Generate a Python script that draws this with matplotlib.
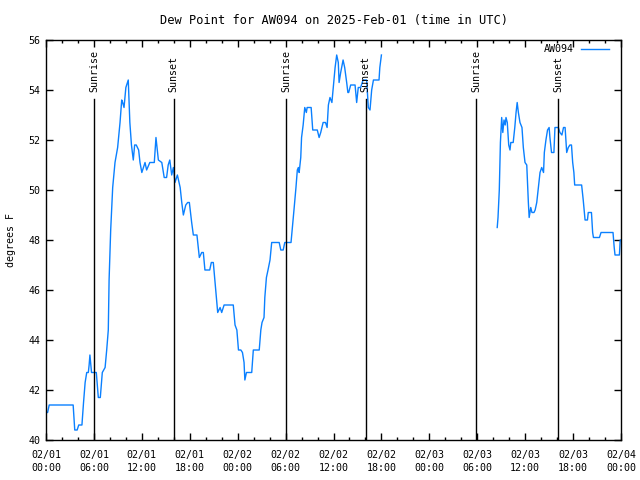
import numpy as np
import matplotlib
matplotlib.use("Agg")
import matplotlib.pyplot as plt
from matplotlib.ticker import MultipleLocator

# hours since 2025-02-01 00:00 UTC, dew point in F
hours1 = [0.0, 0.2, 0.4, 3.4, 3.6, 3.9, 4.1, 4.5, 4.7, 4.9, 5.1, 5.3, 5.4, 5.5, 5.7, 6.3,
          6.55, 6.8, 7.05, 7.4, 7.6, 7.8, 7.9, 8.1, 8.35, 8.64, 8.97, 9.27, 9.48, 9.6, 9.77,
          10.0, 10.3, 10.5, 10.7, 10.93, 11.1, 11.3, 11.6, 11.77, 12.0, 12.4, 12.6, 13.0,
          13.56, 13.77, 14.07, 14.5, 14.8, 15.1, 15.3, 15.5, 15.74, 15.95, 16.15, 16.45,
          16.8, 17.0, 17.2, 17.5, 17.74, 17.95, 18.24, 18.45, 18.9, 19.2, 19.5, 19.7, 19.9,
          20.5, 20.7, 20.95, 21.3, 21.5, 21.8, 22.0, 22.3, 23.45, 23.67, 23.9, 24.1, 24.4,
          24.6, 24.8, 24.9, 25.1, 25.76, 25.96, 26.7, 26.9, 27.05, 27.3, 27.4, 27.6, 27.8,
          28.05, 28.26, 29.2, 29.4, 29.7, 29.9, 30.68, 30.9, 31.05, 31.3, 31.47, 31.6, 31.7,
          31.9, 32.0, 32.2, 32.4, 32.6, 32.7, 33.2, 33.4, 33.97, 34.2, 34.4, 34.7, 35.0,
          35.2, 35.36, 35.56, 35.8, 35.97, 36.2, 36.4, 36.6, 36.7, 36.9, 37.2, 37.4, 37.65,
          37.8, 37.9, 38.15, 38.7, 38.9, 39.1, 39.4, 39.7, 40.15, 40.36, 40.57, 40.78, 41.0,
          41.7, 41.8, 42.0]
dew1 = [41.1, 41.1, 41.4, 41.4, 40.4, 40.4, 40.6, 40.6, 41.5, 42.3, 42.7, 42.7, 43.0, 43.4, 42.7, 42.7,
        41.7, 41.7, 42.7, 42.9, 43.6, 44.4, 46.4, 48.4, 50.1, 51.1, 51.7, 52.7, 53.6, 53.5, 53.3,
        54.1, 54.4, 52.7, 51.8, 51.2, 51.8, 51.8, 51.6, 51.1, 50.7, 51.1, 50.8, 51.1,
        51.1, 52.1, 51.2, 51.1, 50.5, 50.5, 51.0, 51.2, 50.6, 50.9, 50.3, 50.6,
        50.1, 49.5, 49.0, 49.4, 49.5, 49.5, 48.7, 48.2, 48.2, 47.3, 47.5, 47.5, 46.8,
        46.8, 47.1, 47.1, 45.8, 45.1, 45.3, 45.1, 45.4, 45.4, 44.6, 44.4, 43.6, 43.6,
        43.5, 43.1, 42.4, 42.7, 42.7, 43.6, 43.6, 44.4, 44.7, 44.9, 45.7, 46.5, 46.8,
        47.2, 47.9, 47.9, 47.6, 47.6, 47.9, 47.9, 48.7, 49.2, 50.1, 50.8, 50.9, 50.7,
        51.3, 52.1, 52.6, 53.3, 53.1, 53.3, 53.3, 52.4, 52.4, 52.1, 52.3, 52.7, 52.7,
        52.5, 53.4, 53.7, 53.5, 54.1, 54.9, 55.4, 55.1, 54.3, 54.7, 55.2, 54.9, 54.3,
        53.9, 53.9, 54.2, 54.2, 53.5, 54.1, 54.1, 54.4, 54.4, 53.3, 53.2, 54.0, 54.4,
        54.4, 54.9, 55.4]

hours2 = [56.5, 56.6, 56.76, 56.9, 57.06, 57.2, 57.35, 57.5, 57.6, 57.76, 57.94, 58.1, 58.2,
          58.5, 58.7, 58.86, 59.0, 59.15, 59.35, 59.6, 59.77, 59.98, 60.2, 60.4, 60.5, 60.7,
          60.85, 61.1, 61.25, 61.45, 61.65, 61.86, 62.07, 62.3, 62.4, 62.6, 62.8, 63.0, 63.1,
          63.3, 63.6, 63.73, 64.15, 64.35, 64.6, 64.8, 65.0, 65.2, 65.4, 65.6, 65.8, 65.95,
          66.1, 66.2, 67.07, 67.27, 67.5, 67.8, 67.9, 68.3, 68.45, 68.55, 69.3, 69.5, 71.0,
          71.15, 71.25, 71.8, 71.9, 72.0]
dew2 = [48.5, 48.9, 50.0, 51.9, 52.9, 52.3, 52.8, 52.6, 52.9, 52.7, 51.8, 51.6, 51.9,
        51.9, 52.5, 53.1, 53.5, 53.1, 52.7, 52.5, 51.7, 51.1, 51.0, 49.5, 48.9, 49.3,
        49.1, 49.1, 49.2, 49.5, 50.1, 50.7, 50.9, 50.7, 51.5, 52.0, 52.4, 52.5, 52.1,
        51.5, 51.5, 52.5, 52.5, 52.3, 52.2, 52.5, 52.5, 51.5, 51.7, 51.8, 51.8, 51.1,
        50.7, 50.2, 50.2, 49.6, 48.8, 48.8, 49.1, 49.1, 48.3, 48.1, 48.1, 48.3, 48.3,
        47.7, 47.4, 47.4, 48.0, 48.0]

sunrise = [6.0, 30.05, 53.9]
sunset = [16.0, 40.05, 64.1]

xtick_labels = ["02/01\n00:00", "02/01\n06:00", "02/01\n12:00", "02/01\n18:00",
                "02/02\n00:00", "02/02\n06:00", "02/02\n12:00", "02/02\n18:00",
                "02/03\n00:00", "02/03\n06:00", "02/03\n12:00", "02/03\n18:00",
                "02/04\n00:00"]

plt.rcParams['font.family'] = 'DejaVu Sans Mono'
plt.rcParams['font.size'] = 7.2

fig = plt.figure(figsize=(6.4, 4.8), dpi=100)
ax = fig.add_axes([46/640, 40/480, 575/640, 400/480])

x = hours1 + [np.nan] + hours2
y = dew1 + [np.nan] + dew2
ax.plot(x, y, color='#0a80ff', lw=1, label='AW094')

for h in sunrise:
    ax.plot([h, h], [40, 53.64], color='black', lw=1)
    ax.text(h, 53.9, 'Sunrise', rotation=90, ha='center', va='bottom')
for h in sunset:
    ax.plot([h, h], [40, 53.64], color='black', lw=1)
    ax.text(h, 53.9, 'Sunset', rotation=90, ha='center', va='bottom')

ax.set_xlim(0, 72)
ax.set_ylim(40, 56)
ax.set_xticks(np.arange(0, 73, 6))
ax.set_xticklabels(xtick_labels, linespacing=1.3)
ax.xaxis.set_minor_locator(MultipleLocator(2))
ax.set_yticks(np.arange(40, 57, 2))
ax.tick_params(which='major', direction='in', length=5, width=1, top=True, right=True, pad=4)
ax.tick_params(axis='x', which='major', pad=7.5)
ax.tick_params(which='minor', direction='in', length=2.5, width=1, top=True)
for s in ax.spines.values():
    s.set_linewidth(1)

ax.set_title('Dew Point for AW094 on 2025-Feb-01 (time in UTC)', pad=11.8)
ax.set_ylabel('degrees F', labelpad=9)

ax.legend(loc='upper right', frameon=False, markerfirst=False, handlelength=2.8,
          borderaxespad=0.2, bbox_to_anchor=(0.990, 1.005), handletextpad=0.7)

fig.savefig('out.png', dpi=100)
